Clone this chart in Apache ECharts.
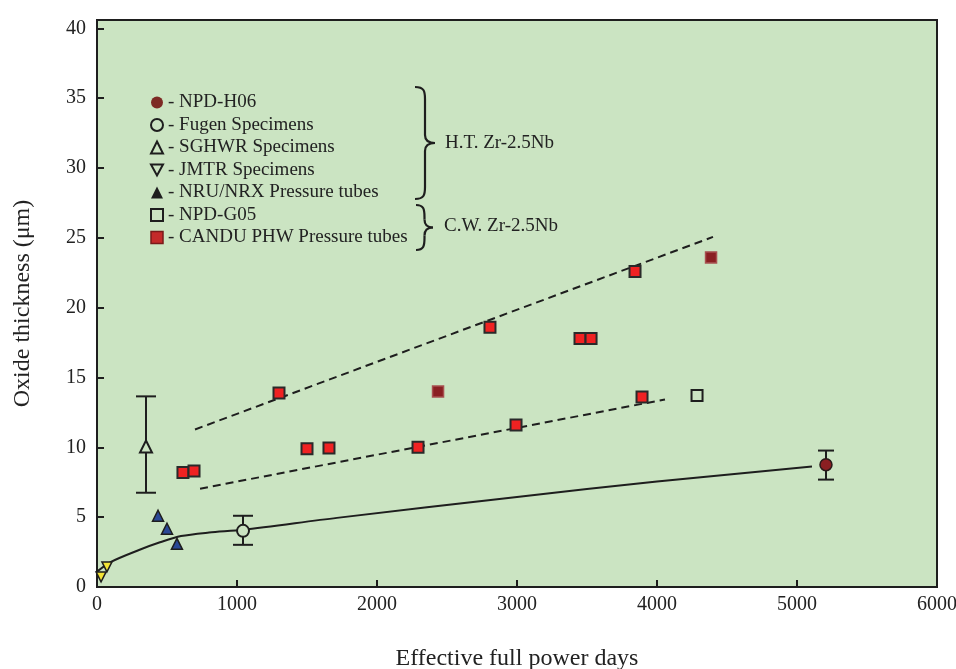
<!DOCTYPE html>
<html>
<head>
<meta charset="utf-8">
<script src="https://cdn.jsdelivr.net/npm/echarts@6/dist/echarts.min.js"></script>
<style>
  html, body { margin: 0; padding: 0; background: #fff; }
  #chart { width: 956px; height: 669px; }
</style>
</head>
<body>
<div id="chart"></div>
<script>
// values
var npdH06 = [[5207, 8.76]];
var fugen = [[1043, 4.02]];
var sghwr = [[350, 10.06]];
var jmtr = [[29, 0.72], [71, 1.44]];
var nru = [[436, 5.1], [500, 4.17], [571, 3.09]];
var npdG05 = [[4286, 13.72]];
var canduX = [614, 693, 1300, 1500, 1657, 2293, 2436, 2807, 2993, 3450, 3529, 3843, 3893, 4386];
var canduY = [8.2, 8.3, 13.9, 9.9, 9.95, 10.0, 14.0, 18.6, 11.6, 17.8, 17.8, 22.6, 13.6, 23.6];
var canduDark = [6, 13]; // the two darker squares

var errX = [350, 1043, 5207];
var errLow = [6.75, 3.02, 7.69];
var errHigh = [13.65, 5.1, 9.77];
var errCap = [20, 20, 16];

var curveX = [0, 100, 300, 450, 600, 800, 1043, 1714, 3000, 4000, 5107];
var curveY = [1.1, 1.8, 2.65, 3.2, 3.65, 3.9, 4.1, 4.95, 6.45, 7.55, 8.62];
var upperFit = [[700, 11.28], [4400, 25.07]];
var lowerFit = [[736, 7.04], [4057, 13.43]];

var plotBg = '#cbe4c2';
var ink = '#1e1e1e';
var serif = '"Liberation Serif", "DejaVu Serif", serif';

var canduData = canduX.map(function (x, i) {
  var item = { value: [x, canduY[i]] };
  if (canduDark.indexOf(i) >= 0) {
    item.itemStyle = { color: '#8a1f22', borderColor: '#a85050', borderWidth: 1.5 };
  }
  return item;
});

var curveData = curveX.map(function (x, i) { return [x, curveY[i]]; });
var errData = errX.map(function (x, i) { return [x, errLow[i], errHigh[i], errCap[i]]; });

// curly brace made of bezier pieces and two straight lines
function brace(x0, y0, y1, w) {
  var ym = (y0 + y1) / 2, xm = x0 + w * 0.5;
  var st = { stroke: ink, lineWidth: 2.2, fill: 'none' };
  return [
    { type: 'bezierCurve', shape: { x1: x0, y1: y0, cpx1: x0 + w * 0.45, cpy1: y0, cpx2: xm, cpy2: y0 + 4, x2: xm, y2: y0 + 12 }, style: st },
    { type: 'line', shape: { x1: xm, y1: y0 + 12, x2: xm, y2: ym - 8 }, style: st },
    { type: 'bezierCurve', shape: { x1: xm, y1: ym - 8, cpx1: xm, cpy1: ym - 2, cpx2: x0 + w * 0.7, cpy2: ym, x2: x0 + w, y2: ym }, style: st },
    { type: 'bezierCurve', shape: { x1: x0 + w, y1: ym, cpx1: x0 + w * 0.7, cpy1: ym, cpx2: xm, cpy2: ym + 2, x2: xm, y2: ym + 8 }, style: st },
    { type: 'line', shape: { x1: xm, y1: ym + 8, x2: xm, y2: y1 - 12 }, style: st },
    { type: 'bezierCurve', shape: { x1: xm, y1: y1 - 12, cpx1: xm, cpy1: y1 - 4, cpx2: x0 + w * 0.45, cpy2: y1, x2: x0, y2: y1 }, style: st }
  ];
}

var openStyle = { color: plotBg, borderColor: ink, borderWidth: 2 };

var chart = echarts.init(document.getElementById('chart'));

var option = {
  backgroundColor: '#fff',
  animation: false,
  grid: {
    left: 97, right: 19, top: 20, bottom: 82, outerBoundsMode: 'none',
    show: true, backgroundColor: plotBg, borderColor: ink, borderWidth: 2
  },
  xAxis: {
    type: 'value', min: 0, max: 6000, interval: 1000,
    name: 'Effective full power days', nameLocation: 'middle', nameGap: 60,
    nameTextStyle: { fontFamily: serif, fontSize: 24, color: '#222' },
    axisLine: { lineStyle: { color: ink, width: 2 } },
    axisTick: { inside: true, length: 7, lineStyle: { color: ink, width: 2 } },
    axisLabel: { fontFamily: serif, fontSize: 20, color: '#222', margin: 8,
      formatter: function (v) { return String(v); } },
    splitLine: { show: false }
  },
  yAxis: {
    type: 'value', min: 0, max: 40.6, interval: 5,
    name: 'Oxide thickness (\u03bcm)', nameLocation: 'middle', nameGap: 62,
    nameTextStyle: { fontFamily: serif, fontSize: 24, color: '#222' },
    axisLine: { lineStyle: { color: ink, width: 2 } },
    axisTick: { inside: true, length: 7, lineStyle: { color: ink, width: 2 } },
    axisLabel: { fontFamily: serif, fontSize: 20, color: '#222', margin: 11, showMaxLabel: false },
    splitLine: { show: false }
  },
  legend: {
    orient: 'vertical', left: 145, top: 88,
    itemWidth: 12, itemHeight: 12, itemGap: 3.5,
    formatter: '- {name}',
    textStyle: { fontFamily: serif, fontSize: 19, color: '#222' },
    data: [
      { name: 'NPD-H06', itemStyle: { color: '#7d2a24', borderWidth: 0 } },
      { name: 'Fugen Specimens', icon: 'circle', itemStyle: openStyle },
      { name: 'SGHWR Specimens', icon: 'triangle', itemStyle: openStyle },
      { name: 'JMTR Specimens', icon: 'path://M0,0 L10,0 L5,9 Z', itemStyle: openStyle },
      { name: 'NRU/NRX Pressure tubes', icon: 'triangle', itemStyle: { color: ink, borderWidth: 0 } },
      { name: 'NPD-G05', icon: 'rect', itemStyle: openStyle },
      { name: 'CANDU PHW Pressure tubes', icon: 'rect', itemStyle: { color: '#c42a2a', borderColor: '#7a1a1a', borderWidth: 1.5 } }
    ]
  },
  graphic: brace(415, 87, 199, 20).concat(brace(416, 205, 250, 17)).concat([
    { type: 'text', left: 445, top: 134,
      style: { text: 'H.T. Zr-2.5Nb', fontFamily: serif, fontSize: 19, fill: '#222' } },
    { type: 'text', left: 444, top: 217,
      style: { text: 'C.W. Zr-2.5Nb', fontFamily: serif, fontSize: 19, fill: '#222' } }
  ]),
  series: [
    {
      name: 'fit', type: 'line', data: curveData, smooth: 0.3, symbol: 'none',
      lineStyle: { color: ink, width: 2 }, z: 1, silent: true
    },
    {
      name: 'upper', type: 'line', data: upperFit, symbol: 'none',
      lineStyle: { color: ink, width: 2, type: [8, 5] }, z: 1, silent: true
    },
    {
      name: 'lower', type: 'line', data: lowerFit, symbol: 'none',
      lineStyle: { color: ink, width: 2, type: [8, 5] }, z: 1, silent: true
    },
    {
      name: 'err', type: 'custom', data: errData, z: 2, silent: true,
      renderItem: function (params, api) {
        var lo = api.coord([api.value(0), api.value(1)]);
        var hi = api.coord([api.value(0), api.value(2)]);
        var half = api.value(3) / 2;
        var st = { stroke: ink, lineWidth: 2 };
        return {
          type: 'group', children: [
            { type: 'line', shape: { x1: lo[0], y1: lo[1], x2: hi[0], y2: hi[1] }, style: st },
            { type: 'line', shape: { x1: lo[0] - half, y1: lo[1], x2: lo[0] + half, y2: lo[1] }, style: st },
            { type: 'line', shape: { x1: hi[0] - half, y1: hi[1], x2: hi[0] + half, y2: hi[1] }, style: st }
          ]
        };
      }
    },
    {
      name: 'NPD-H06', type: 'scatter', data: npdH06, symbol: 'circle', symbolSize: 12, z: 3,
      itemStyle: { color: '#8a1f22', borderColor: '#2a1a1a', borderWidth: 1.5, opacity: 1 }
    },
    {
      name: 'Fugen Specimens', type: 'scatter', data: fugen, symbol: 'circle', symbolSize: 12, z: 3,
      itemStyle: { color: plotBg, borderColor: ink, borderWidth: 2, opacity: 1 }
    },
    {
      name: 'SGHWR Specimens', type: 'scatter', data: sghwr, symbol: 'triangle', symbolSize: 12, z: 3,
      itemStyle: { color: plotBg, borderColor: ink, borderWidth: 2, opacity: 1 }
    },
    {
      name: 'JMTR Specimens', type: 'scatter', data: jmtr, symbol: 'triangle', symbolRotate: 180,
      symbolSize: 10, z: 3,
      itemStyle: { color: '#f2e436', borderColor: ink, borderWidth: 1.5, opacity: 1 }
    },
    {
      name: 'NRU/NRX Pressure tubes', type: 'scatter', data: nru, symbol: 'triangle', symbolSize: 11, z: 3,
      itemStyle: { color: '#2a4896', borderColor: ink, borderWidth: 1.5, opacity: 1 }
    },
    {
      name: 'NPD-G05', type: 'scatter', data: npdG05, symbol: 'rect', symbolSize: 11, z: 3,
      itemStyle: { color: plotBg, borderColor: ink, borderWidth: 2, opacity: 1 }
    },
    {
      name: 'CANDU PHW Pressure tubes', type: 'scatter', data: canduData, symbol: 'rect', symbolSize: 11, z: 3,
      itemStyle: { color: '#f02222', borderColor: '#2a2a2a', borderWidth: 2, opacity: 1 }
    }
  ]
};

chart.setOption(option);
</script>
</body>
</html>
